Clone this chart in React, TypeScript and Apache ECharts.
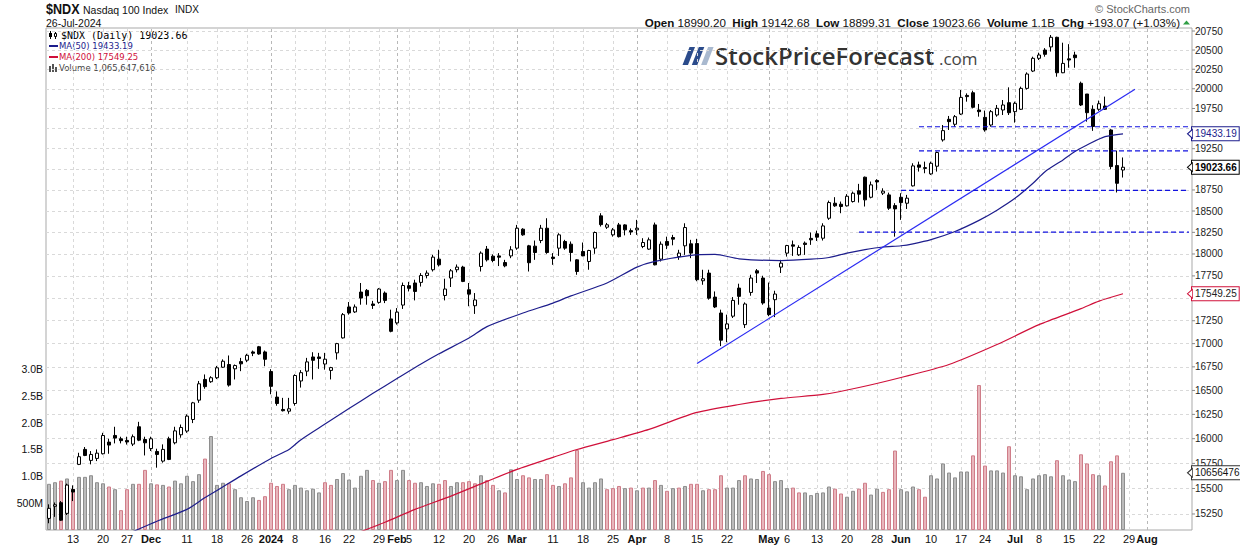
import React, { useEffect, useRef } from 'react';
import * as echarts from 'echarts';

// ---------- trading days shown on the chart ----------
const DAYS_2023_11 = [7, 8, 9, 10, 13, 14, 15, 16, 17, 20, 21, 22, 24, 27, 28, 29, 30];
const DAYS_2023_12 = [1, 4, 5, 6, 7, 8, 11, 12, 13, 14, 15, 18, 19, 20, 21, 22, 26, 27, 28, 29];
const DAYS_2024_01 = [2, 3, 4, 5, 8, 9, 10, 11, 12, 16, 17, 18, 19, 22, 23, 24, 25, 26, 29, 30, 31];
const DAYS_2024_02 = [1, 2, 5, 6, 7, 8, 9, 12, 13, 14, 15, 16, 20, 21, 22, 23, 26, 27, 28, 29];
const DAYS_2024_03 = [1, 4, 5, 6, 7, 8, 11, 12, 13, 14, 15, 18, 19, 20, 21, 22, 25, 26, 27, 28];
const DAYS_2024_04 = [1, 2, 3, 4, 5, 8, 9, 10, 11, 12, 15, 16, 17, 18, 19, 22, 23, 24, 25, 26, 29, 30];
const DAYS_2024_05 = [1, 2, 3, 6, 7, 8, 9, 10, 13, 14, 15, 16, 17, 20, 21, 22, 23, 24, 28, 29, 30, 31];
const DAYS_2024_06 = [3, 4, 5, 6, 7, 10, 11, 12, 13, 14, 17, 18, 20, 21, 24, 25, 26, 27, 28];
const DAYS_2024_07 = [1, 2, 3, 5, 8, 9, 10, 11, 12, 15, 16, 17, 18, 19, 22, 23, 24, 25, 26];
const FUTURE_DATES = ['2024-07-29', '2024-07-30', '2024-07-31', '2024-08-01', '2024-08-02', '2024-08-05',
  '2024-08-06', '2024-08-07', '2024-08-08', '2024-08-09', '2024-08-12'];

// ---------- daily OHLC: [open, high, low, close] ----------
const OHLC: number[][] = [
  [15207, 15344, 15160, 15305], [15325, 15362, 15222, 15340], [15360, 15376, 15183, 15190], [15256, 15548, 15240, 15534],
  [15491, 15531, 15376, 15465], [15740, 15857, 15733, 15817], [15891, 15915, 15823, 15830], [15780, 15874, 15740, 15840],
  [15800, 15891, 15773, 15853], [15847, 16060, 15840, 16033], [15965, 15999, 15847, 15935], [16033, 16122, 15952, 16006],
  [15999, 16020, 15952, 15980], [15982, 16020, 15940, 15966], [15945, 16043, 15925, 16020], [16122, 16173, 15975, 15985],
  [15992, 16020, 15830, 15958], [15900, 16020, 15875, 15999], [15870, 15898, 15707, 15840], [15773, 15942, 15757, 15891],
  [15999, 16020, 15783, 15790], [15958, 16122, 15942, 16080], [16040, 16145, 16010, 16115], [16078, 16250, 16060, 16232],
  [16197, 16380, 16160, 16370], [16398, 16600, 16370, 16570], [16616, 16669, 16518, 16540], [16592, 16650, 16580, 16634],
  [16634, 16760, 16620, 16740], [16746, 16830, 16740, 16810], [16775, 16872, 16540, 16556], [16729, 16775, 16616, 16764],
  [16806, 16846, 16704, 16782], [16821, 16890, 16800, 16874], [16910, 16925, 16865, 16896], [16966, 16975, 16880, 16888],
  [16910, 16925, 16757, 16831], [16700, 16725, 16460, 16543], [16430, 16490, 16340, 16363], [16301, 16422, 16280, 16288],
  [16283, 16422, 16256, 16308], [16363, 16670, 16340, 16658], [16600, 16715, 16530, 16688], [16704, 16846, 16651, 16803],
  [16856, 16907, 16616, 16820], [16856, 16900, 16729, 16840], [16780, 16900, 16720, 16832], [16712, 16750, 16616, 16742],
  [16900, 17008, 16828, 17000], [17062, 17335, 17055, 17317], [17402, 17457, 17317, 17336], [17347, 17430, 17336, 17402],
  [17568, 17670, 17427, 17501], [17587, 17602, 17427, 17527], [17435, 17470, 17380, 17419], [17453, 17613, 17438, 17602],
  [17557, 17575, 17445, 17475], [17270, 17372, 17123, 17134], [17226, 17390, 17207, 17345], [17423, 17675, 17380, 17642],
  [17640, 17683, 17575, 17610], [17670, 17707, 17475, 17575], [17677, 17782, 17630, 17755], [17755, 17812, 17722, 17782],
  [17820, 17990, 17800, 17964], [17941, 18048, 17857, 17876], [17530, 17718, 17475, 17602], [17726, 17828, 17625, 17808],
  [17820, 17880, 17790, 17850], [17850, 17865, 17680, 17688], [17594, 17670, 17410, 17545], [17416, 17557, 17325, 17480],
  [17857, 18030, 17800, 18010], [18056, 18092, 17914, 17933], [17975, 17995, 17905, 17925], [17978, 18010, 17862, 17963],
  [17902, 17933, 17848, 17864], [17978, 18090, 17952, 18048], [18067, 18337, 18048, 18298], [18287, 18298, 18210, 18221],
  [18094, 18105, 17800, 17900], [18090, 18155, 17933, 18017], [18155, 18337, 18125, 18298], [18298, 18415, 18002, 18017],
  [17964, 18010, 17876, 17948], [18067, 18240, 17978, 18221], [18144, 18163, 18048, 18067], [18113, 18144, 17914, 18017],
  [17933, 17940, 17763, 17800], [18029, 18132, 17975, 17978], [17914, 18048, 17820, 18040], [18067, 18260, 18002, 18248],
  [18443, 18474, 18318, 18340], [18310, 18360, 18290, 18338], [18221, 18300, 18200, 18279], [18337, 18360, 18190, 18200],
  [18337, 18345, 18215, 18279], [18270, 18296, 18220, 18254], [18279, 18396, 18221, 18298], [18086, 18182, 18067, 18132],
  [18056, 18190, 18048, 18163], [18337, 18364, 17870, 17876], [17941, 18144, 17914, 18113], [18144, 18200, 18056, 18100],
  [18190, 18221, 18100, 18171], [17970, 18048, 17933, 18010], [18094, 18356, 17990, 18306], [18117, 18163, 17952, 18010],
  [18120, 18175, 17690, 17707], [17695, 17820, 17650, 17718], [17782, 17820, 17483, 17500], [17512, 17575, 17390, 17402],
  [17335, 17372, 16973, 17037], [17160, 17317, 17015, 17215], [17300, 17512, 17280, 17475], [17613, 17662, 17427, 17520],
  [17207, 17453, 17170, 17435], [17564, 17763, 17527, 17726], [17808, 17828, 17670, 17782], [17726, 17752, 17427, 17446],
  [17390, 17675, 17300, 17317], [17483, 17583, 17290, 17546], [17850, 17933, 17783, 17895], [18010, 18105, 17970, 18097],
  [18105, 18155, 17978, 18090], [17990, 18100, 17978, 18075], [18125, 18144, 17990, 18110], [18180, 18248, 18105, 18163],
  [18233, 18270, 18150, 18194], [18182, 18356, 18155, 18325], [18415, 18623, 18396, 18600], [18592, 18664, 18549, 18561],
  [18580, 18612, 18474, 18553], [18561, 18700, 18553, 18675], [18612, 18731, 18600, 18711], [18740, 18823, 18600, 18700],
  [18903, 18911, 18553, 18632], [18663, 18851, 18650, 18811], [18863, 18879, 18751, 18846], [18712, 18770, 18690, 18736],
  [18691, 18718, 18513, 18533], [18564, 18593, 18200, 18525], [18663, 18711, 18396, 18600], [18592, 18691, 18524, 18652],
  [18799, 19072, 18791, 19040], [19052, 19092, 18971, 19024], [19008, 19092, 18951, 19020], [18943, 19092, 18931, 19072],
  [19036, 19215, 18971, 19203], [19358, 19543, 19337, 19473], [19614, 19656, 19481, 19585], [19552, 19668, 19522, 19647],
  [19680, 19984, 19668, 19890], [19915, 19941, 19836, 19900], [19949, 19975, 19752, 19765], [19731, 19807, 19647, 19710],
  [19639, 19723, 19460, 19481], [19543, 19731, 19522, 19710], [19668, 19794, 19647, 19752], [19731, 19857, 19668, 19794],
  [19823, 20018, 19668, 19697], [19710, 19836, 19573, 19815], [19740, 20027, 19731, 20005], [20005, 20210, 19990, 20189],
  [20227, 20413, 20214, 20392], [20392, 20465, 20370, 20435], [20500, 20525, 20413, 20444], [20541, 20697, 20480, 20667],
  [20667, 20675, 20154, 20205], [20205, 20596, 20200, 20326], [20385, 20577, 20270, 20370], [20435, 20478, 20270, 20400],
  [20070, 20091, 19781, 19794], [19933, 19933, 19585, 19697], [19740, 19790, 19470, 19525], [19740, 19850, 19720, 19810],
  [19781, 19900, 19731, 19740], [19481, 19490, 19000, 19032], [19044, 19227, 18720, 18830], [18990.2, 19142.68, 18899.31, 19023.66],
];

// ---------- daily volume, billions of shares ----------
const VOLUME_B = [
  0.86, 0.89, 0.92, 0.96, 0.76, 0.99, 0.99, 1.02, 0.89, 0.87,
  0.81, 0.76, 0.37, 0.76, 0.86, 0.86, 1.12, 0.87, 0.85, 0.84,
  0.81, 0.92, 0.87, 1.01, 0.91, 1.04, 1.33, 1.75, 0.84, 0.88,
  0.87, 0.76, 0.61, 0.54, 0.61, 0.56, 0.63, 0.88, 0.82, 0.86,
  0.76, 0.84, 0.79, 0.74, 0.77, 0.70, 0.89, 0.84, 0.95, 1.06,
  0.94, 0.79, 1.01, 1.12, 0.93, 0.88, 0.91, 1.12, 0.93, 1.12,
  0.93, 0.88, 0.89, 0.82, 0.87, 0.86, 0.93, 0.82, 0.89, 0.89,
  0.91, 0.87, 1.02, 0.93, 0.84, 0.74, 0.70, 1.13, 0.95, 1.02,
  0.98, 0.95, 0.95, 1.04, 0.84, 0.82, 0.87, 0.98, 1.49, 0.89,
  0.79, 0.89, 0.96, 0.76, 0.78, 0.82, 0.78, 0.79, 0.74, 0.79,
  0.79, 0.93, 0.84, 0.73, 0.78, 0.79, 0.82, 0.86, 0.86, 0.74,
  0.76, 0.76, 1.02, 0.79, 0.79, 0.93, 1.02, 0.96, 0.95, 1.10,
  1.04, 0.91, 0.93, 0.78, 0.79, 0.70, 0.70, 0.65, 0.69, 0.70,
  0.81, 0.77, 0.68, 0.62, 0.73, 0.77, 0.88, 0.66, 0.77, 0.71,
  0.76, 1.48, 0.76, 0.72, 0.81, 0.76, 0.62, 1.02, 0.96, 1.24,
  1.07, 0.98, 1.09, 1.09, 1.39, 2.70, 1.20, 1.11, 1.11, 1.07,
  1.56, 1.02, 1.00, 0.76, 0.96, 1.02, 1.04, 1.00, 1.30, 1.02,
  0.94, 0.91, 1.41, 1.24, 1.04, 1.02, 0.83, 1.28, 1.39, 1.065647616,
];

// ---------- moving averages: [day index, value] ----------
const MA50_POINTS = [
  [14, 15080], [18, 15180], [23, 15295], [26, 15410], [28, 15480], [32, 15625], [37, 15800], [40, 15890],
  [42, 15990], [46, 16150], [50, 16310], [54, 16470], [58, 16625], [62, 16780], [65, 16890], [70, 17060],
  [73, 17185], [79, 17335], [84, 17445], [87, 17525], [93, 17670], [98, 17850], [101, 17915], [107, 17985],
  [111, 17995], [115, 17945], [122, 17925], [127, 17940], [130, 17960], [133, 18010], [136, 18050], [139, 18080],
  [142, 18095], [144, 18117], [147, 18165], [151, 18260], [155, 18390], [158, 18510], [161, 18650], [164, 18830],
  [166, 18970], [169, 19113], [171, 19215], [173, 19296], [176, 19398], [179, 19433.19],
];
const MA200_POINTS = [
  [52, 15080], [56, 15170], [61, 15295], [67, 15425], [73, 15570], [78, 15690], [84, 15810], [88, 15890],
  [94, 15990], [100, 16095], [108, 16270], [115, 16353], [122, 16416], [129, 16458], [135, 16531], [142, 16637],
  [150, 16775], [158, 16990], [165, 17207], [172, 17383], [175, 17467], [179, 17549.25],
];

// ---------- analyst annotations ----------
const TRENDLINE = [['2024-04-15', 16785], ['2024-07-30', 19993]];
const SUPPORT_LEVELS = [
  { from: '2024-06-06', price: 19521 },
  { from: '2024-06-06', price: 19222 },
  { from: '2024-06-03', price: 18746 },
  { from: '2024-05-22', price: 18252 },
];

// ---------- axis ticks ----------
const PRICE_TICKS = [15250, 15500, 15750, 16000, 16250, 16500, 16750, 17000, 17250, 17500, 17750, 18000,
  18250, 18500, 18750, 19000, 19250, 19500, 19750, 20000, 20250, 20500, 20750];
// tick labels that the value boxes cover on the reference
const COVERED_TICKS = [19500, 19000, 17500];
const X_TICKS: [string, string, boolean][] = [
  ['2023-11-13', '13', false], ['2023-11-20', '20', false], ['2023-11-27', '27', false], ['2023-12-01', 'Dec', true],
  ['2023-12-11', '11', false], ['2023-12-18', '18', false], ['2023-12-26', '26', false], ['2024-01-02', '2024', true],
  ['2024-01-08', '8', false], ['2024-01-16', '16', false], ['2024-01-22', '22', false], ['2024-01-29', '29', false],
  ['2024-02-01', 'Feb', true], ['2024-02-05', '5', false], ['2024-02-12', '12', false], ['2024-02-20', '20', false],
  ['2024-02-26', '26', false], ['2024-03-01', 'Mar', true], ['2024-03-11', '11', false], ['2024-03-18', '18', false],
  ['2024-03-25', '25', false], ['2024-04-01', 'Apr', true], ['2024-04-08', '8', false], ['2024-04-15', '15', false],
  ['2024-04-22', '22', false], ['2024-05-01', 'May', true], ['2024-05-06', '6', false], ['2024-05-13', '13', false],
  ['2024-05-20', '20', false], ['2024-05-28', '28', false], ['2024-06-03', 'Jun', true], ['2024-06-10', '10', false],
  ['2024-06-17', '17', false], ['2024-06-24', '24', false], ['2024-07-01', 'Jul', true], ['2024-07-08', '8', false],
  ['2024-07-15', '15', false], ['2024-07-22', '22', false], ['2024-07-29', '29', false], ['2024-08-01', 'Aug', true],
];

const LAST = { open: 18990.2, high: 19142.68, low: 18899.31, close: 19023.66, volume: 1065647616, ma50: 19433.19, ma200: 17549.25 };

const FONT = '"Liberation Sans", Arial, sans-serif';

const pad = (d: number) => (d < 10 ? '0' + d : String(d));
const MONTHS: [string, number[]][] = [
  ['2023-11', DAYS_2023_11], ['2023-12', DAYS_2023_12], ['2024-01', DAYS_2024_01], ['2024-02', DAYS_2024_02],
  ['2024-03', DAYS_2024_03], ['2024-04', DAYS_2024_04], ['2024-05', DAYS_2024_05], ['2024-06', DAYS_2024_06],
  ['2024-07', DAYS_2024_07],
];
const DATES = MONTHS.flatMap(([m, days]) => days.map((d) => `${m}-${pad(d)}`));
const ALL_DATES = DATES.concat(FUTURE_DATES);
const LABEL_BY_DATE: Record<string, string> = {};
X_TICKS.forEach(([d, l, m]) => { LABEL_BY_DATE[d] = m ? `{m|${l}}` : l; });

const NO_LINE = { color: 'rgba(0,0,0,0)', width: 0 };

function boxLabel(text: string, border: string, color: string, bold = false) {
  return {
    show: true, position: 'end', distance: 0, formatter: text, color, fontSize: 10,
    fontWeight: bold ? 'bold' : 'normal', fontFamily: FONT, backgroundColor: '#fff',
    borderColor: border, borderWidth: 1, padding: [2, 2, 1, 3],
  };
}
function notch(slot: string, value: number, border: string) {
  return {
    coord: [slot, value], symbol: 'triangle', symbolSize: [9, 5], symbolRotate: 90, symbolOffset: [1, 0],
    itemStyle: { color: '#fff', borderColor: border, borderWidth: 1 }, label: { show: false },
  };
}

function buildOption() {
  const candleData = OHLC.map(([o, h, l, c]) => [o, c, l, h]);
  const volumeData = VOLUME_B.map((v, i) => {
    const down = i > 0 && OHLC[i][3] < OHLC[i - 1][3];
    return {
      value: v * 1e9,
      itemStyle: { color: down ? '#e8b6bc' : '#bcbcbc', borderColor: down ? '#cf7d89' : '#8e8e8e', borderWidth: 1 },
    };
  });
  const priceGrid = PRICE_TICKS.map((t) => ({
    yAxis: t,
    lineStyle: { color: '#d9d9d9', type: [3, 3], width: 1 },
    label: {
      show: !COVERED_TICKS.includes(t), position: 'end', formatter: `{t| }${t}`, distance: 0,
      color: '#222', fontSize: 10, fontFamily: FONT,
      rich: { t: { width: 3, height: 1, backgroundColor: '#8a8a8a' } },
    },
  }));
  const timeGrid = X_TICKS.map(([d, , m]) => ({
    xAxis: d,
    lineStyle: { color: m ? '#b8b8b8' : '#d9d9d9', type: [3, 3], width: 1 },
    label: { show: false },
  }));
  const lastSlot = ALL_DATES[ALL_DATES.length - 1];

  const mid = { textVerticalAlign: 'middle', verticalAlign: 'middle' };

  const graphic: any[] = [
    { type: 'text', x: 46, y: 9, scaleX: 0.84, style: { text: '$NDX', font: `bold 15px ${FONT}`, fill: '#111', ...mid } },
    { type: 'text', x: 83, y: 9.5, style: { text: 'Nasdaq 100 Index', font: `10.5px ${FONT}`, fill: '#111', ...mid } },
    { type: 'text', x: 175, y: 9.5, style: { text: 'INDX', font: `10px ${FONT}`, fill: '#111', ...mid } },
    { type: 'text', x: 46, y: 22.5, style: { text: '26-Jul-2024', font: `10.5px ${FONT}`, fill: '#111', ...mid } },
    { type: 'text', x: 1190, y: 9, style: { text: '\u00A9 StockCharts.com', font: `11px ${FONT}`, fill: '#666', textAlign: 'right', align: 'right', ...mid } },
    {
      type: 'text', x: 1180, y: 22.5,
      style: {
        text: `{b|Open} ${LAST.open.toFixed(2)}  {b|High} ${LAST.high.toFixed(2)}  {b|Low} ${LAST.low.toFixed(2)}  {b|Close} ${LAST.close.toFixed(2)}  {b|Volume} 1.1B  {b|Chg} +193.07 (+1.03%)`,
        font: `11.6px ${FONT}`, fill: '#111', textAlign: 'right', align: 'right', ...mid,
        rich: { b: { fontWeight: 'bold', fontSize: 11.6, fontFamily: FONT, fill: '#111', color: '#111' } },
      },
    },
    { type: 'polygon', shape: { points: [[1183, 24.5], [1190, 24.5], [1186.5, 20.5]] }, style: { fill: '#2f9e44' } },
    // legend rows
    { type: 'line', shape: { x1: 50.5, y1: 31, x2: 50.5, y2: 39 }, style: { stroke: '#000', lineWidth: 1 } },
    { type: 'rect', shape: { x: 49, y: 33, width: 3, height: 4 }, style: { fill: '#000' } },
    { type: 'line', shape: { x1: 55.5, y1: 32, x2: 55.5, y2: 39 }, style: { stroke: '#000', lineWidth: 1 } },
    { type: 'rect', shape: { x: 54.5, y: 33.5, width: 2, height: 3 }, style: { fill: '#fff', stroke: '#000', lineWidth: 1 } },
    { type: 'text', x: 61, y: 35, style: { text: `$NDX (Daily) ${LAST.close.toFixed(2)}`, font: '10px "DejaVu Sans Mono"', fill: '#000', ...mid } },
    { type: 'rect', shape: { x: 49, y: 45, width: 9, height: 2 }, style: { fill: '#1d1d8c' } },
    { type: 'text', x: 59, y: 46, style: { text: `MA(50) ${LAST.ma50.toFixed(2)}`, font: '8.5px "DejaVu Sans"', fill: '#1d1d8c', ...mid } },
    { type: 'rect', shape: { x: 49, y: 56, width: 9, height: 2 }, style: { fill: '#d0103a' } },
    { type: 'text', x: 59, y: 57.3, style: { text: `MA(200) ${LAST.ma200.toFixed(2)}`, font: '8.5px "DejaVu Sans"', fill: '#d0103a', ...mid } },
    { type: 'rect', shape: { x: 49, y: 66, width: 2, height: 6 }, style: { fill: '#555' } },
    { type: 'rect', shape: { x: 52, y: 64, width: 2, height: 8 }, style: { fill: '#555' } },
    { type: 'rect', shape: { x: 55, y: 67, width: 2, height: 5 }, style: { fill: '#555' } },
    { type: 'text', x: 59, y: 68.3, style: { text: 'Volume 1,065,647,616', font: '8.5px "DejaVu Sans"', fill: '#444', ...mid } },
    // logo
    { type: 'polygon', shape: { points: [[682.5, 65], [688, 65], [695, 47], [689.5, 47]] }, style: { fill: '#2b4b8b' } },
    { type: 'polygon', shape: { points: [[691.8, 65], [697.3, 65], [704.3, 47], [698.8, 47]] }, style: { fill: '#2b4b8b' } },
    { type: 'polygon', shape: { points: [[701.1, 65], [706.6, 65], [713.6, 47], [708.1, 47]] }, style: { fill: '#a9b9cf' } },
    { type: 'text', x: 715, y: 55.8, style: { text: 'StockPriceForecast', font: '600 24px "Open Sans"', fill: '#333', ...mid } },
    { type: 'text', x: 939, y: 58.8, style: { text: '.com', font: '17px "Open Sans"', fill: '#444', ...mid } },
  ];

  return {
    animation: false,
    backgroundColor: '#fff',
    textStyle: { fontFamily: FONT },
    grid: { left: 46, top: 28, width: 1146, height: 502, show: true, borderColor: '#a9a9a9', borderWidth: 1, backgroundColor: 'transparent' },
    xAxis: {
      type: 'category', data: ALL_DATES, boundaryGap: true,
      axisLine: { show: false }, axisTick: { show: false }, splitLine: { show: false },
      axisLabel: {
        interval: (_i: number, v: string) => v in LABEL_BY_DATE,
        formatter: (v: string) => LABEL_BY_DATE[v] ?? '',
        color: '#111', fontSize: 11, fontFamily: FONT, margin: 3,
        rich: { m: { fontWeight: 'bold', fontSize: 11, color: '#111', fontFamily: FONT } },
      },
    },
    yAxis: [
      {
        type: 'log', logBase: 10, min: 15095, max: 20790, position: 'right',
        axisLine: { show: false }, axisTick: { show: false }, axisLabel: { show: false }, splitLine: { show: false },
      },
      {
        type: 'value', min: 0, max: 9.35e9, interval: 5e8, position: 'left',
        axisLine: { show: false }, axisTick: { show: false }, splitLine: { show: false },
        axisLabel: {
          color: '#111', fontSize: 10.5, fontFamily: FONT, margin: 3,
          formatter: (v: number) => (v <= 0 || v > 3.01e9 ? '' : v >= 1e9 ? (v / 1e9).toFixed(1) + 'B' : Math.round(v / 1e6) + 'M'),
        },
      },
    ],
    series: [
      {
        name: 'Volume', type: 'bar', xAxisIndex: 0, yAxisIndex: 1, data: volumeData, barWidth: 4, silent: true, z: 1,
        markLine: {
          silent: true, symbol: ['none', 'none'], z: 12, lineStyle: NO_LINE,
          data: [{ yAxis: LAST.volume, lineStyle: NO_LINE, label: boxLabel('10656476', '#333', '#111') }],
        },
        markPoint: { silent: true, z: 13, data: [notch(lastSlot, LAST.volume, '#333')] },
      },
      {
        name: '$NDX', type: 'candlestick', xAxisIndex: 0, yAxisIndex: 0, data: candleData, barWidth: 4, silent: true, z: 3,
        itemStyle: { color: '#fff', color0: '#000', borderColor: '#000', borderColor0: '#000', borderWidth: 1 },
        markLine: { silent: true, symbol: ['none', 'none'], z: 0, data: [...priceGrid, ...timeGrid] },
      },
      {
        name: 'MA50', type: 'line', yAxisIndex: 0, data: MA50_POINTS, symbol: 'none', smooth: 0.25, silent: true, z: 4,
        lineStyle: { color: '#1d1d8c', width: 1.2 },
        markLine: {
          silent: true, symbol: ['none', 'none'], z: 12, lineStyle: NO_LINE,
          data: [
            { yAxis: LAST.ma50, lineStyle: NO_LINE, label: boxLabel(LAST.ma50.toFixed(2), '#1d1d8c', '#1d1d8c') },
            { yAxis: LAST.close, lineStyle: NO_LINE, label: boxLabel(LAST.close.toFixed(2), '#000', '#000', true) },
            { yAxis: LAST.ma200, lineStyle: NO_LINE, label: boxLabel(LAST.ma200.toFixed(2), '#d0103a', '#222') },
          ],
        },
        markPoint: {
          silent: true, z: 13,
          data: [notch(lastSlot, LAST.ma50, '#1d1d8c'), notch(lastSlot, LAST.close, '#000'), notch(lastSlot, LAST.ma200, '#d0103a')],
        },
      },
      {
        name: 'MA200', type: 'line', yAxisIndex: 0, data: MA200_POINTS, symbol: 'none', smooth: 0.25, silent: true, z: 4,
        lineStyle: { color: '#d0103a', width: 1.2 },
      },
      {
        name: 'Trend', type: 'line', yAxisIndex: 0, data: TRENDLINE, symbol: 'none', silent: true, z: 5,
        lineStyle: { color: '#2a2af2', width: 1.2 },
      },
      ...SUPPORT_LEVELS.map((s, i) => ({
        name: 'Support' + i, type: 'line', yAxisIndex: 0, data: [[s.from, s.price], [lastSlot, s.price]],
        symbol: 'none', silent: true, z: 5, lineStyle: { color: '#1212e0', width: 1.2, type: [5, 3] },
      })),
    ],
    graphic,
  };
}

export default function App() {
  const ref = useRef<HTMLDivElement>(null);
  useEffect(() => {
    if (!ref.current) return;
    const chart = echarts.init(ref.current, null, { renderer: 'svg' });
    chart.setOption(buildOption() as any);
    return () => chart.dispose();
  }, []);
  return (
    <div
      ref={ref}
      style={{ position: 'absolute', left: 0, top: 0, width: 1240, height: 546, background: '#fff' }}
    />
  );
}
